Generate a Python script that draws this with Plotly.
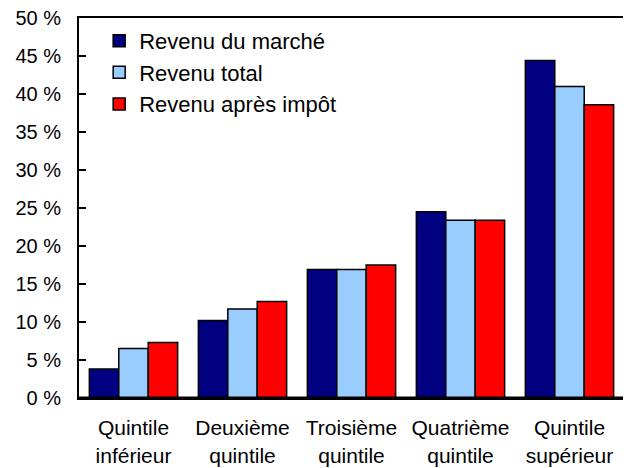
import plotly.graph_objects as go

categories = ["Quintile<br>inférieur", "Deuxième<br>quintile", "Troisième<br>quintile",
              "Quatrième<br>quintile", "Quintile<br>supérieur"]
series_names = ["Revenu du marché", "Revenu total", "Revenu après impôt"]
marche = [3.8, 10.2, 16.9, 24.5, 44.4]
total = [6.5, 11.7, 16.9, 23.4, 41.0]
apres_impot = [7.3, 12.7, 17.5, 23.4, 38.6]
colors = ["#000080", "#99CCFF", "#FF0000"]

fig = go.Figure()
for name, vals, col in zip(series_names, [marche, total, apres_impot], colors):
    fig.add_trace(go.Bar(x=categories, y=vals, name=name,
                         marker=dict(color=col, line=dict(color="black", width=1.5))))

# thicker baseline at 0 %
fig.add_shape(type="line", xref="paper", yref="y", x0=0, x1=1, y0=0, y1=0,
              line=dict(color="black", width=3), layer="above")

# page body has an 8px margin, so the figure is a bit smaller than the window
fig.update_layout(
    width=623, height=460,
    margin=dict(l=71, r=7, t=10, b=70, autoexpand=False),
    paper_bgcolor="white", plot_bgcolor="white",
    font=dict(family="Liberation Sans, Arial", size=20, color="black"),
    barmode="group", bargap=0.19, bargroupgap=0,
    legend=dict(x=0.037, y=0.995, xanchor="left", yanchor="top",
                bgcolor="rgba(0,0,0,0)", tracegroupgap=0, itemwidth=30,
                font=dict(size=22)),
    xaxis=dict(showline=True, linecolor="black", linewidth=2, mirror=True, ticks="",
               showgrid=False, ticklabelstandoff=10, automargin=False,
               tickfont=dict(size=21)),
    yaxis=dict(range=[0, 50], dtick=5, ticksuffix=" %", showgrid=False,
               showline=True, linecolor="black", linewidth=2, mirror=True,
               ticks="inside", ticklen=7, tickwidth=2, tickcolor="black",
               ticklabelstandoff=12, zeroline=False, automargin=False,
               ticklabeloverflow="allow"),
)

fig.write_html("out.html")
